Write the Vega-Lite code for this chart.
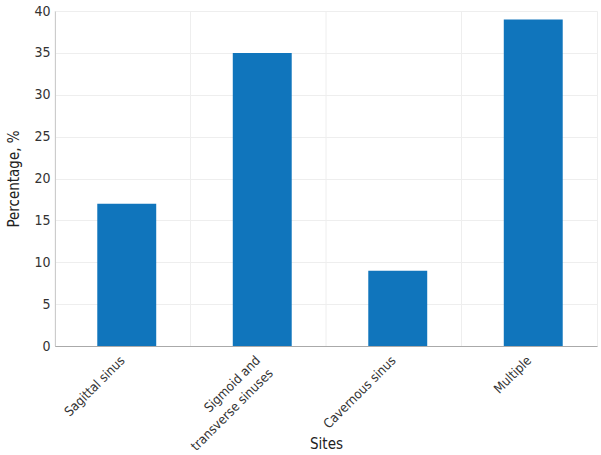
{
  "$schema": "https://vega.github.io/schema/vega-lite/v6.json",
  "autosize": "none",
  "width": 542,
  "height": 335,
  "padding": {"left": 55, "top": 11, "right": 4, "bottom": 109},
  "background": "white",
  "data": {
    "values": [
      {"site": "Sagittal sinus", "pct": 17},
      {"site": "Sigmoid and\ntransverse sinuses", "pct": 35},
      {"site": "Cavernous sinus", "pct": 9},
      {"site": "Multiple", "pct": 39}
    ]
  },
  "config": {
    "font": "DejaVu Sans Condensed",
    "view": {"stroke": "#eeeeee"},
    "axis": {
      "labelFont": "DejaVu Sans Condensed",
      "titleFont": "DejaVu Sans Condensed",
      "labelColor": "#333333",
      "titleColor": "#222222",
      "labelFontSize": 14,
      "titleFontSize": 15,
      "titleFontWeight": "normal",
      "gridColor": "#eeeeee",
      "domainColor": "#aaaaaa"
    }
  },
  "encoding": {
    "x": {
      "field": "site",
      "type": "nominal",
      "sort": null,
      "title": "Sites",
      "scale": {"paddingInner": 0, "paddingOuter": 0},
      "axis": {
        "bandPosition": 0.64,
        "labelAngle": -45,
        "labelAlign": "right",
        "labelBaseline": "middle",
        "labelFontSize": 13,
        "labelExpr": "split(datum.label, '\\n')",
        "labelLineHeight": 18,
        "labelPadding": 12,
        "ticks": false,
        "grid": false,
        "titleBaseline": "middle",
        "titleY": 97
      }
    }
  },
  "layer": [
    {
      "mark": {"type": "rule", "color": "#eeeeee", "strokeWidth": 1},
      "encoding": {
        "x": {"field": "site", "type": "nominal", "sort": null, "bandPosition": 0}
      }
    },
    {
      "mark": {"type": "bar", "color": "#1075bc", "width": {"band": 0.435}, "xOffset": 4},
      "encoding": {
        "y": {
          "field": "pct",
          "type": "quantitative",
          "title": "Percentage, %",
          "scale": {"domain": [0, 40]},
          "axis": {
            "values": [0, 5, 10, 15, 20, 25, 30, 35, 40],
            "ticks": false,
            "labelPadding": 5,
            "titlePadding": 12,
            "grid": true
          }
        }
      }
    }
  ]
}
